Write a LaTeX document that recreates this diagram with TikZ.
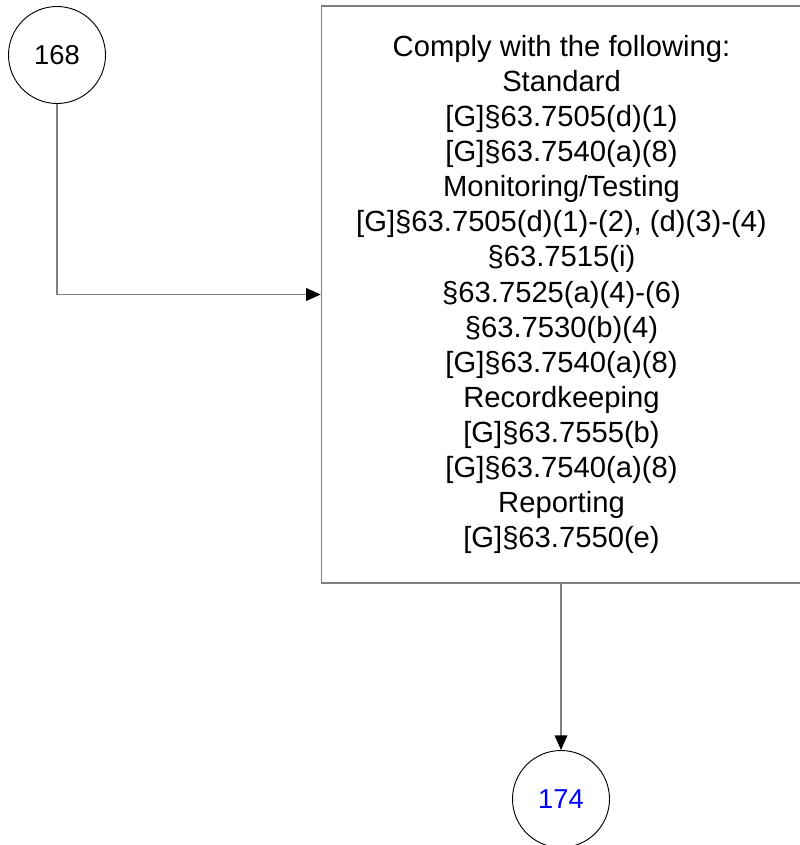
\documentclass[tikz,border=0pt]{standalone}
\usepackage{fontspec}
\setmainfont{Liberation Sans}
\usetikzlibrary{arrows.meta}
\definecolor{linegray}{RGB}{128,128,128}
\definecolor{refblue}{RGB}{0,0,255}
\tikzset{
  conn/.style={draw=linegray, line width=1.1pt, -{Triangle[length=11pt,width=9.5pt,color=black]}},
  offpage/.style={circle, draw=black, line width=0.7pt, minimum size=72.75pt, inner sep=0pt, font=\fontsize{20.5}{24}\selectfont},
  stepbox/.style={rectangle, draw=linegray, line width=1.1pt, minimum width=360pt, minimum height=432.75pt, inner sep=0pt, align=center, font=\fontsize{21.9}{26.3}\selectfont}
}
\begin{document}
\begin{tikzpicture}[x=0.75pt,y=-0.75pt]
\useasboundingbox (0,0) rectangle (799,845);
\node[offpage] (c168) at (57,55) {168};
\node[stepbox] (box) at (561.5,294.5) {Comply with the following:\\Standard\\{[G]}§63.7505(d)(1)\\{[G]}§63.7540(a)(8)\\Monitoring/Testing\\{[G]}§63.7505(d)(1)-(2), (d)(3)-(4)\\§63.7515(i)\\§63.7525(a)(4)-(6)\\§63.7530(b)(4)\\{[G]}§63.7540(a)(8)\\Recordkeeping\\{[G]}§63.7555(b)\\{[G]}§63.7540(a)(8)\\Reporting\\{[G]}§63.7550(e)};
\node[offpage, text=refblue] (c174) at (561,799) {174};
\coordinate (bend) at (c168.south |- box.west);
\draw[conn] (c168.south) -- (bend) -- (box.west);
\draw[conn] (box.south -| c174.north) -- (c174.north);
\end{tikzpicture}
\end{document}
